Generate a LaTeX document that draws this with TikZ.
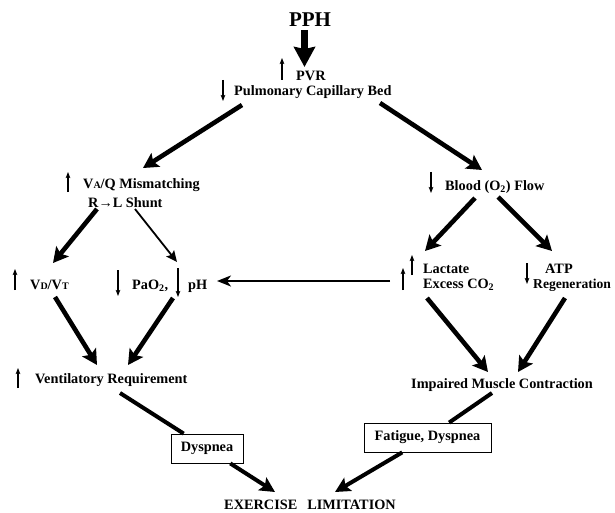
\documentclass[tikz,border=0pt]{standalone}
\usepackage{fontspec}
\setmainfont{Liberation Serif}
\usetikzlibrary{arrows.meta,calc}
\newcommand{\smc}[1]{{\fontsize{10}{12}\selectfont #1}}
\begin{document}
\begin{tikzpicture}[x=1pt,y=-1pt,
  txt/.style={font=\fontsize{14.3}{16}\selectfont\bfseries, inner sep=0pt},
  bigarr/.style={line width=4.6pt, -{Stealth[length=15pt,width=16pt,inset=3pt]}},
  pphArr/.style={line width=7pt, -{Stealth[length=20pt,width=21pt,inset=2pt]}},
  thinarr/.style={line width=1.8pt, -{Stealth[length=11pt,width=10pt,inset=2pt]}},
  horarr/.style={line width=1.8pt, -{Stealth[length=14pt,width=11pt,inset=4pt]}},
  finline/.style={line width=4pt},
  finarr/.style={line width=4pt, -{Stealth[length=15pt,width=15pt,inset=3pt]}},
  ind/.style={line width=1.2pt, -{Stealth[length=6pt,width=4.5pt,inset=1pt]}},
  boxed/.style={txt, draw, line width=0.8pt, fill=white, minimum height=29pt}]
\useasboundingbox (0,0) rectangle (615,513);

% texts
\node[txt,anchor=base] (pph) at (310,27) {\fontsize{21}{24}\selectfont PPH};
\node[txt,anchor=base west] (pvr) at (296,81) {PVR};
\node[txt,anchor=base west] (pcb) at (234,96) {Pulmonary Capillary Bed};
\node[txt,anchor=base west] (vaq) at (83,188) {V\smc{A}/Q Mismatching};
\node[txt,anchor=base west] (shunt) at (88,207) {R→L Shunt};
\node[txt,anchor=base west] (blood) at (445,190) {Blood (O\textsubscript{2}) Flow};
\node[txt,anchor=base west] (vdvt) at (30,289) {V\smc{D}/V\smc{T}};
\node[txt,anchor=base west] (pao) at (132,289) {PaO\textsubscript{2},};
\node[txt,anchor=base west] (ph) at (188,289) {pH};
\node[txt,anchor=base west] (lac) at (423,273) {Lactate};
\node[txt,anchor=base west] (exc) at (423,288) {Excess CO\textsubscript{2}};
\node[txt,anchor=base west] (atp) at (545,273) {ATP};
\node[txt,anchor=base west] (regen) at (533,288) {\fontsize{13.6}{16}\selectfont Regeneration};
\node[txt,anchor=base west] (vent) at (35,383) {Ventilatory Requirement};
\node[txt,anchor=base west] (imp) at (411,388) {Impaired Muscle Contraction};
\node[txt,anchor=base] (ex) at (310,509) {EXERCISE\hspace{0.7em}LIMITATION};
\node[boxed,minimum width=72pt] (dysp) at (207,448.5) {Dyspnea};
\node[boxed,minimum width=127pt] (fat) at (427.5,437.5) {Fatigue, Dyspnea};

% up / down indicators
\draw[ind] ($(pvr.base west)+(-14,-1)$) -- ++(0,-22);
\draw[ind] ($(pcb.base west)+(-11,-16)$) -- ++(0,21);
\draw[ind] ($(vaq.base west)+(-15,4)$) -- ++(0,-20);
\draw[ind] ($(blood.base west)+(-14,-18)$) -- ++(0,21);
\draw[ind] ($(vdvt.base west)+(-15,1)$) -- ++(0,-21);
\draw[ind] ($(pao.base west)+(-14,-19)$) -- ++(0,26);
\draw[ind] ($(ph.base west)+(-10,-21)$) -- ++(0,29);
\draw[ind] ($(exc.base west)+(-20,2)$) -- ++(0,-22);
\draw[ind] ($(lac.base west)+(-11,2)$) -- ++(0,-20);
\draw[ind] ($(atp.base west)+(-18,-10)$) -- ++(0,21);
\draw[ind] ($(vent.base west)+(-17,5)$) -- ++(0,-20);

% connectors
\draw[pphArr] ($(pph.base)+(-5.5,3)$) -- ($(pvr.base west)+(8.5,-14)$);
\draw[bigarr] ($(pcb.base west)+(8,9)$) -- ($(vaq.base west)+(60,-20)$);
\draw[bigarr] ($(pcb.base west)+(146,7)$) -- ($(blood.base west)+(37,-20)$);
\draw[bigarr] ($(shunt.base west)+(9,2)$) -- ($(vdvt.base west)+(23,-26)$);
\draw[thinarr] ($(shunt.base west)+(47,2)$) -- ($(ph.base west)+(-11,-27)$);
\draw[bigarr] ($(blood.base west)+(30,8)$) -- ($(lac.base west)+(2,-22)$);
\draw[bigarr] ($(blood.base west)+(53,7)$) -- ($(atp.base west)+(7,-22)$);
\draw[horarr] ($(exc.base west)+(-33,-7)$) -- ($(ph.base west)+(29,-8)$);
\draw[bigarr] ($(vdvt.base west)+(25,8)$) -- ($(vent.base west)+(62,-18)$);
\draw[bigarr] ($(ph.base west)+(-15,9)$) -- ($(vent.base west)+(93,-18)$);
\draw[bigarr] ($(exc.base west)+(4,10)$) -- ($(imp.base west)+(77,-16)$);
\draw[bigarr] ($(regen.base west)+(32,10)$) -- ($(imp.base west)+(107,-16)$);
\draw[finline] ($(vent.base west)+(85,10)$) -- (dysp);
\draw[finarr] (dysp) -- ($(ex.base)+(-35,-17)$);
\draw[finline] ($(imp.base west)+(81,5)$) -- (fat);
\draw[finarr] (fat) -- ($(ex.base)+(25,-17)$);
\end{tikzpicture}
\end{document}
